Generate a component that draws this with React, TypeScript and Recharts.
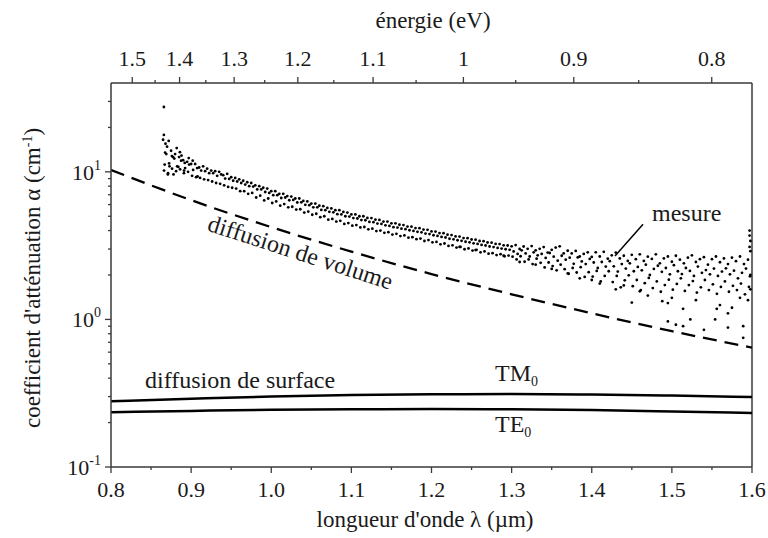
import React from 'react';
import { ComposedChart, Scatter, Line, XAxis, YAxis, ReferenceLine, Customized } from 'recharts';

const FONT = 'Liberation Serif';
const TXT = '#1a1a1a';
const AXIS = '#3a3a3a';
const TICK_FS = 22;
const TITLE_FS = 23;
const NOTE_FS = 24;

// longueur d'onde (µm) des points de mesure
const lambdaGrid = [
  0.865, 0.870, 0.875, 0.880, 0.885, 0.890, 0.895, 0.900, 0.905, 0.910, 0.915, 0.920, 0.925, 0.930, 0.935, 0.940, 0.945, 0.950, 0.955, 0.960,
  0.965, 0.970, 0.975, 0.980, 0.985, 0.990, 0.995, 1.000, 1.005, 1.010, 1.015, 1.020, 1.025, 1.030, 1.035, 1.040, 1.045, 1.050, 1.055, 1.060,
  1.065, 1.070, 1.075, 1.080, 1.085, 1.090, 1.095, 1.100, 1.105, 1.110, 1.115, 1.120, 1.125, 1.130, 1.135, 1.140, 1.145, 1.150, 1.155, 1.160,
  1.165, 1.170, 1.175, 1.180, 1.185, 1.190, 1.195, 1.200, 1.205, 1.210, 1.215, 1.220, 1.225, 1.230, 1.235, 1.240, 1.245, 1.250, 1.255, 1.260,
  1.265, 1.270, 1.275, 1.280, 1.285, 1.290, 1.295, 1.300, 1.305, 1.310, 1.315, 1.320, 1.325, 1.330, 1.335, 1.340, 1.345, 1.350, 1.355, 1.360,
  1.365, 1.370, 1.375, 1.380, 1.385, 1.390, 1.395, 1.400, 1.405, 1.410, 1.415, 1.420, 1.425, 1.430, 1.435, 1.440, 1.445, 1.450, 1.455, 1.460,
  1.465, 1.470, 1.475, 1.480, 1.485, 1.490, 1.495, 1.500, 1.505, 1.510, 1.515, 1.520, 1.525, 1.530, 1.535, 1.540, 1.545, 1.550, 1.555, 1.560,
  1.565, 1.570, 1.575, 1.580, 1.585, 1.590, 1.595,
];

const mesureHaut = [
  16.5, 14.8, 13.9, 13.2, 12.6, 12.0, 11.7, 11.3, 11.3, 10.7, 10.9, 10.5, 10.2, 10.1, 10.0, 9.5, 9.7, 9.2, 9.1, 8.9,
  8.7, 8.5, 8.4, 8.1, 8.0, 7.8, 7.7, 7.4, 7.4, 7.1, 7.1, 6.85, 6.8, 6.6, 6.6, 6.35, 6.3, 6.1, 6.1, 5.9,
  5.85, 5.7, 5.65, 5.5, 5.5, 5.35, 5.3, 5.15, 5.15, 5.0, 5.0, 4.87, 4.86, 4.74, 4.72, 4.6, 4.6, 4.48, 4.48, 4.38,
  4.36, 4.26, 4.25, 4.16, 4.15, 4.06, 4.05, 3.95, 3.94, 3.85, 3.84, 3.75, 3.73, 3.65, 3.64, 3.56, 3.55, 3.48, 3.47, 3.4,
  3.39, 3.32, 3.31, 3.25, 3.24, 3.18, 3.17,
  3.13, 3.19, 3.0, 3.12, 3.01, 3.14, 2.94, 3.01, 3.09, 2.84, 2.96, 3.07, 3.13, 2.8, 2.92, 2.8, 2.91, 2.67, 2.78, 2.85,
  2.65, 2.85, 2.67, 2.87, 2.58, 2.72, 2.84, 2.59, 2.7, 2.49, 2.74, 2.56, 2.76, 2.49, 2.66, 2.57, 2.76, 2.4, 2.59, 2.67,
  2.46, 2.7, 2.54, 2.4, 2.62, 2.72, 2.45, 2.56, 2.64, 2.35, 2.56, 2.67, 2.44, 2.59, 2.37, 2.62, 2.48, 2.67, 2.37, 2.54,
];

const mesureMilieu = [
  13.5, 11.4, 12.6, 10.9, 11.9, 10.6, 11.2, 10.3, 10.6, 10.2, 10.1, 9.8, 9.8, 9.4, 9.6, 9.0, 8.95, 8.7, 8.6, 8.4,
  8.2, 8.0, 7.95, 7.6, 7.6, 7.3, 7.2, 6.95, 6.95, 6.65, 6.7, 6.42, 6.45, 6.2, 6.22, 5.98, 5.95, 5.75, 5.75, 5.52,
  5.5, 5.36, 5.32, 5.17, 5.15, 5.0, 4.98, 4.86, 4.83, 4.71, 4.7, 4.58, 4.56, 4.46, 4.44, 4.34, 4.3, 4.22, 4.19, 4.12,
  4.09, 4.02, 3.98, 3.92, 3.89, 3.82, 3.79, 3.72, 3.68, 3.62, 3.59, 3.52, 3.49, 3.44, 3.41, 3.36, 3.33, 3.28, 3.25, 3.2,
  3.17, 3.12, 3.09, 3.05, 3.02, 2.99, 2.96,
  2.89, 2.78, 2.94, 2.8, 2.67, 2.85, 2.72, 2.78, 2.61, 2.82, 2.66, 2.5, 2.7, 2.54, 2.62, 2.38, 2.63, 2.47, 2.37, 2.57,
  2.43, 2.23, 2.45, 2.28, 2.48, 2.29, 2.11, 2.37, 2.21, 2.4, 2.12, 2.27, 2.15, 2.35, 2.0, 2.2, 2.31, 2.1, 2.23, 2.02,
  2.33, 2.12, 2.03, 2.23, 2.13, 1.97, 2.28, 2.07, 2.16, 2.02, 2.21, 1.97, 2.11, 2.22, 2.02, 2.14, 1.9, 2.07, 2.21, 1.96,
];

const mesureBas = [
  10.2, 9.8, 10.5, 10.1, 10.4, 10.2, 10.0,
  9.4, 9.2, 9.1, 8.9, 8.8, 8.6, 8.4, 8.3, 8.1, 7.9, 7.8, 7.7, 7.4,
  7.4, 7.1, 7.2, 6.7, 6.9, 6.4, 6.6, 6.15, 6.3, 5.9, 6.05, 5.75, 5.8, 5.55, 5.58, 5.3, 5.38, 5.12, 5.2, 4.93,
  5.0, 4.74, 4.8, 4.6, 4.66, 4.44, 4.5, 4.32, 4.36, 4.2, 4.23, 4.08, 4.12, 3.97, 4.0, 3.86, 3.9, 3.76, 3.8, 3.67,
  3.71, 3.58, 3.61, 3.5, 3.53, 3.4, 3.45, 3.33, 3.35, 3.23, 3.27, 3.15, 3.18, 3.07, 3.1, 2.99, 3.03, 2.93, 2.96, 2.85,
  2.89, 2.79, 2.81, 2.73, 2.77, 2.68, 2.71,
  2.66, 2.55, 2.68, 2.46, 2.55, 2.37, 2.58, 2.42, 2.25, 2.43, 2.3, 2.15, 2.35, 2.19, 2.04, 2.23, 2.08, 2.26, 1.94, 2.09,
  1.95, 2.13, 1.81, 1.97, 2.12, 1.79, 1.97, 1.65, 1.84, 1.99, 1.68, 1.85, 1.58, 1.76, 1.91, 1.63, 1.81, 1.54, 1.71, 1.86,
  1.59, 1.74, 1.9, 1.56, 1.71, 1.82, 1.52, 1.65, 1.85, 1.58, 1.73, 1.49, 1.66, 1.81, 1.54, 1.69, 1.58, 1.75, 1.48, 1.66,
];

// points isolés
const dispersionLambda = [
  0.866, 0.866, 0.867, 0.868, 0.869, 0.871, 0.872, 0.873, 0.876, 0.878, 0.879, 0.882, 0.884, 0.886, 0.888, 0.891, 0.892, 0.897, 0.902, 0.908,
  1.235, 1.255, 1.29, 1.31, 1.33, 1.35, 1.37, 1.385, 1.40, 1.41, 1.43, 1.44, 1.45, 1.46, 1.47, 1.488, 1.495, 1.495, 1.50, 1.505,
  1.514, 1.514, 1.523, 1.53, 1.54, 1.554, 1.556, 1.56, 1.57, 1.57, 1.575, 1.585, 1.589, 1.589, 1.595,
  1.597, 1.598, 1.597, 1.598, 1.597, 1.598, 1.598,
];
const dispersionAlpha = [
  27.5, 17.8, 11.2, 15.5, 13.2, 9.6, 16.2, 10.9, 12.8, 9.6, 12.3, 14.5, 10.8, 13.6, 12.9, 9.8, 11.5, 12.4, 11.9, 9.3,
  3.1, 2.95, 2.7, 2.45, 2.35, 2.2, 2.05, 1.9, 1.85, 1.75, 1.6, 1.7, 1.3, 1.55, 1.45, 1.33, 1.29, 0.97, 1.4, 0.92,
  1.18, 0.9, 1.0, 1.35, 0.85, 1.0, 1.18, 1.25, 0.88, 1.1, 1.2, 1.4, 0.9, 0.75, 1.35,
  3.7, 3.4, 3.1, 2.9, 4.0, 2.0, 1.6,
];

// modèles
const modeleLambda = [0.8, 0.9, 1.0, 1.1, 1.2, 1.3, 1.4, 1.5, 1.6];
const diffusionVolume = [10.3, 6.43, 4.22, 2.88, 2.03, 1.48, 1.10, 0.833, 0.644];
const surfaceTM = [0.279, 0.29, 0.3, 0.307, 0.311, 0.312, 0.31, 0.305, 0.298];
const surfaceTE = [0.235, 0.24, 0.244, 0.246, 0.247, 0.246, 0.243, 0.238, 0.232];

// graduations
const xTicks = [0.8, 0.85, 0.9, 0.95, 1.0, 1.05, 1.1, 1.15, 1.2, 1.25, 1.3, 1.35, 1.4, 1.45, 1.5, 1.55, 1.6];
const yTicks = [0.1, 0.2, 0.3, 0.4, 0.5, 0.6, 0.7, 0.8, 0.9, 1, 2, 3, 4, 5, 6, 7, 8, 9, 10, 20, 30];
const yMajor: Record<number, string> = { 0.1: '-1', 1: '0', 10: '1' };
const energyTicks = [1.5, 1.45, 1.4, 1.35, 1.3, 1.25, 1.2, 1.15, 1.1, 1.05, 1.0, 0.95, 0.9, 0.85, 0.8];
const HC = 1.2398; // eV·µm

const topTickPositions = energyTicks.map((e) => HC / e);

// the three tracks are sampled on interleaved wavelengths
const OFFSET_MILIEU = 0.0025;
const OFFSET_BAS = 0.0012;

const mesureData = [
  ...lambdaGrid.map((l, i) => ({ l, a: mesureHaut[i] })),
  ...lambdaGrid.map((l, i) => ({ l: l + OFFSET_MILIEU, a: mesureMilieu[i] })),
  ...lambdaGrid.map((l, i) => ({ l: l + OFFSET_BAS, a: mesureBas[i] })),
  ...dispersionLambda.map((l, i) => ({ l, a: dispersionAlpha[i] })),
];
const volumeData = modeleLambda.map((l, i) => ({ l, a: diffusionVolume[i] }));
const tmData = modeleLambda.map((l, i) => ({ l, a: surfaceTM[i] }));
const teData = modeleLambda.map((l, i) => ({ l, a: surfaceTE[i] }));

const BottomTick = (props: any) => {
  const { x, y, payload, index } = props;
  const major = index % 2 === 0;
  return (
    <g>
      <line x1={x} x2={x} y1={y} y2={y + (major ? 6 : 3)} stroke={AXIS} strokeWidth={1.3} />
      {major && (
        <text x={x} y={y + 30} textAnchor="middle" fontSize={TICK_FS} fontFamily={FONT} fill={TXT}>
          {Number(payload.value).toFixed(1)}
        </text>
      )}
    </g>
  );
};

const TopTick = (props: any) => {
  const { x, y, index } = props;
  const e = energyTicks[index];
  const major = index % 2 === 0;
  return (
    <g>
      <line x1={x} x2={x} y1={y} y2={y - (major ? 6 : 3)} stroke={AXIS} strokeWidth={1.3} />
      {major && (
        <text x={x} y={y - 17} textAnchor="middle" fontSize={TICK_FS} fontFamily={FONT} fill={TXT}>
          {String(Math.round(e * 10) / 10)}
        </text>
      )}
    </g>
  );
};

const LeftTick = (props: any) => {
  const { x, y, payload } = props;
  const exp = yMajor[payload.value];
  const major = exp !== undefined;
  return (
    <g>
      <line x1={x} x2={x - (major ? 6 : 3)} y1={y} y2={y} stroke={AXIS} strokeWidth={1.3} />
      {major && (
        <text x={x - 10} y={y + 8} textAnchor="end" fontSize={TICK_FS} fontFamily={FONT} fill={TXT}>
          10
          <tspan dy={-10} fontSize={14}>{exp}</tspan>
        </text>
      )}
    </g>
  );
};

const Dot = (p: any) => <circle cx={p.cx} cy={p.cy} r={1.4} fill="#000" />;

const Annotations = () => (
  <g fontFamily={FONT} fill={TXT}>
    <text x={433} y={28} textAnchor="middle" fontSize={TITLE_FS} fontFamily={FONT}>énergie (eV)</text>
    <text x={425} y={527} textAnchor="middle" fontSize={TITLE_FS} fontFamily={FONT}>longueur d'onde λ (µm)</text>
    <text transform="translate(40,278) rotate(-90)" textAnchor="middle" fontSize={TITLE_FS} fontFamily={FONT}>
      coefficient d'atténuation α (cm<tspan dy={-8} fontSize={14}>-1</tspan>
      <tspan dy={8}>)</tspan>
    </text>
    <text transform="translate(298,260) rotate(18)" textAnchor="middle" fontSize={NOTE_FS} fontFamily={FONT}>diffusion de volume</text>
    <text x={652} y={221} fontSize={NOTE_FS} fontFamily={FONT}>mesure</text>
    <text x={145} y={388} fontSize={NOTE_FS} fontFamily={FONT}>diffusion de surface</text>
    <text x={495} y={381} fontSize={NOTE_FS} fontFamily={FONT}>
      TM<tspan dy={5} fontSize={14}>0</tspan>
    </text>
    <text x={495} y={432} fontSize={NOTE_FS} fontFamily={FONT}>
      TE<tspan dy={5} fontSize={14}>0</tspan>
    </text>
  </g>
);

export default function App() {
  return (
    <div style={{ position: 'absolute', left: 0, top: 0, width: 768, height: 538, background: '#fff', fontFamily: FONT }}>
      <ComposedChart width={768} height={538} margin={{ top: 0, right: 16, bottom: 0, left: 0 }} style={{ fontFamily: FONT }}>
        <XAxis
          xAxisId="bottom"
          dataKey="l"
          type="number"
          domain={[0.8, 1.6]}
          ticks={xTicks}
          interval={0}
          allowDataOverflow
          height={71}
          tickSize={0}
          tickMargin={0}
          tickLine={false}
          tick={BottomTick}
          axisLine={{ stroke: AXIS, strokeWidth: 1.5 }}
        />
        <XAxis
          xAxisId="top"
          orientation="top"
          dataKey="l"
          type="number"
          domain={[0.8, 1.6]}
          ticks={topTickPositions}
          interval={0}
          allowDataOverflow
          height={83}
          tickSize={0}
          tickMargin={0}
          tickLine={false}
          tick={TopTick}
          axisLine={{ stroke: AXIS, strokeWidth: 1.5 }}
        />
        <YAxis
          yAxisId="y"
          dataKey="a"
          type="number"
          scale="log"
          domain={[0.1, 40]}
          ticks={yTicks}
          interval={0}
          allowDataOverflow
          width={111}
          tickSize={0}
          tickMargin={0}
          tickLine={false}
          tick={LeftTick}
          axisLine={{ stroke: AXIS, strokeWidth: 1.5 }}
        />
        <ReferenceLine xAxisId="bottom" yAxisId="y" x={1.6} stroke={AXIS} strokeWidth={1.5} />
        <Line
          xAxisId="bottom"
          yAxisId="y"
          data={volumeData}
          dataKey="a"
          type="monotone"
          stroke="#000"
          strokeWidth={2.3}
          strokeDasharray="14 8"
          dot={false}
          isAnimationActive={false}
        />
        <Line
          xAxisId="bottom"
          yAxisId="y"
          data={tmData}
          dataKey="a"
          type="monotone"
          stroke="#000"
          strokeWidth={2.5}
          dot={false}
          isAnimationActive={false}
        />
        <Line
          xAxisId="bottom"
          yAxisId="y"
          data={teData}
          dataKey="a"
          type="monotone"
          stroke="#000"
          strokeWidth={2.5}
          dot={false}
          isAnimationActive={false}
        />
        <Scatter
          xAxisId="bottom"
          yAxisId="y"
          data={mesureData}
          dataKey="a"
          fill="#000"
          shape={Dot}
          isAnimationActive={false}
        />
        <ReferenceLine
          xAxisId="bottom"
          yAxisId="y"
          segment={[{ x: 1.429, y: 2.69 }, { x: 1.464, y: 4.42 }]}
          stroke="#000"
          strokeWidth={1.5}
        />
        <Customized component={Annotations} />
      </ComposedChart>
    </div>
  );
}
